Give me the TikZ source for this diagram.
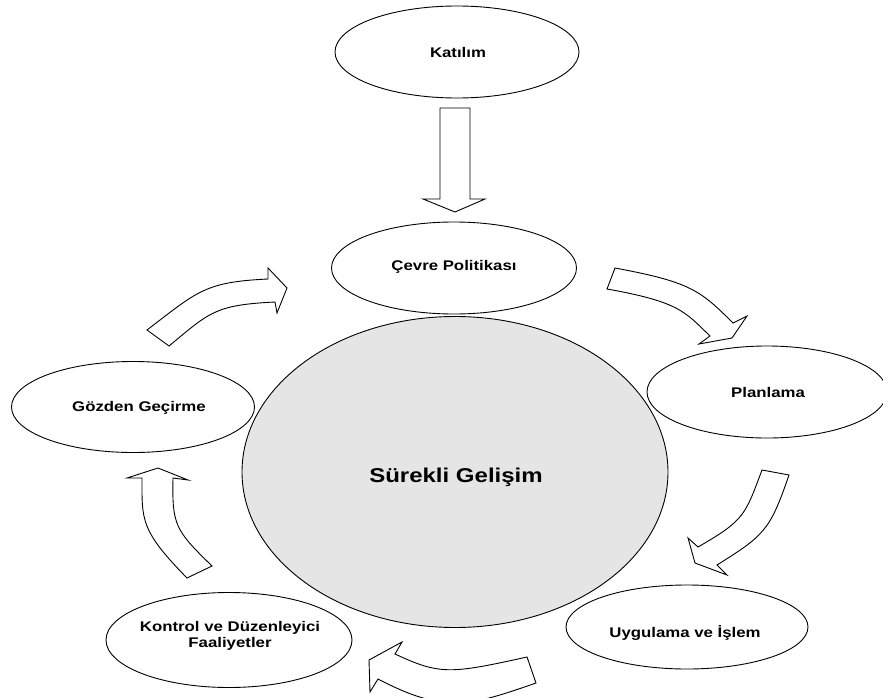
\documentclass[tikz,border=0pt]{standalone}
\usepackage{fontspec}
\setmainfont{Liberation Sans}[FakeStretch=1.2]
\usetikzlibrary{shapes.geometric}
\begin{document}
\begin{tikzpicture}[x=1pt,y=-1pt,
  oval/.style={draw=black,line width=0.9pt,fill=white,ellipse,inner sep=0pt},
  bigoval/.style={draw=black,line width=0.9pt,fill=gray!20,ellipse,inner sep=0pt},
  lbl/.style={font=\fontsize{14}{16}\selectfont\bfseries,align=center,inner sep=0pt},
  biglbl/.style={font=\fontsize{20}{22}\selectfont\bfseries,inner sep=0pt},
  blockarrow/.style={draw=black,line width=0.9pt,fill=white,line join=miter}]
\useasboundingbox (0,0) rectangle (883,698);
% central circle
\node[bigoval,minimum width=426pt,minimum height=311pt] (center) at (455,472) {};
% ellipses
\node[oval,minimum width=244pt,minimum height=92pt] (katilim) at (457,52) {};
\node[oval,minimum width=245pt,minimum height=92pt] (cevre) at (454,268) {};
\node[oval,minimum width=240pt,minimum height=92pt] (plan) at (767,392) {};
\node[oval,minimum width=243pt,minimum height=91pt] (gozden) at (133,407) {};
\node[oval,minimum width=242pt,minimum height=84pt] (uygulama) at (687,627) {};
\node[oval,minimum width=246pt,minimum height=95pt] (kontrol) at (229,640) {};
% labels
\node[lbl] (tkatilim) at (458,52) {Katılım};
\node[lbl] (tcevre) at (454,267) {Çevre Politikası};
\node[lbl] (tplan) at (768,392) {Planlama};
\node[lbl] (tgozden) at (139,408) {Gözden Geçirme};
\node[lbl] (tuyg) at (685,633) {Uygulama ve İşlem};
\node[lbl] (tkontrol) at (230,636) {Kontrol ve Düzenleyici\\Faaliyetler};
\node[biglbl] (tcenter) at (456,477) {Sürekli Gelişim};
% straight down arrow
\draw[blockarrow] (440,108) -- (470,108) -- (470,199) -- (485,199) -- (455,212)
  -- (423,199) -- (440,199) -- cycle;
% top-left curved arrow
\draw[blockarrow] (147,330) .. controls (198,291) and (205,282) .. (268,279)
  -- (268,268) -- (287,288) -- (277,313) -- (275,302)
  .. controls (215,305) and (210,312) .. (169,346) -- cycle;
% top-right curved arrow
\draw[blockarrow] (615,268) .. controls (690,282) and (700,290) .. (733,323)
  -- (747,316) -- (732,338) -- (699,344) -- (710,336)
  .. controls (685,312) and (680,302) .. (607,289) -- cycle;
% right curved arrow
\draw[blockarrow] (762,470) .. controls (745,515) and (745,520) .. (698,547)
  -- (688,538) -- (695,563) -- (727,575) -- (717,565)
  .. controls (765,535) and (770,530) .. (789,475) -- cycle;
% bottom curved arrow
\draw[blockarrow] (527,657) .. controls (450,674) and (440,675) .. (395,654)
  -- (402,642) -- (369,660) -- (370,692) -- (378,679)
  .. controls (445,714) and (470,706) .. (536,683) -- cycle;
% left curved arrow
\draw[blockarrow] (187,578) .. controls (140,530) and (142,520) .. (142,478)
  -- (127,478) -- (158,468) -- (188,480) -- (173,478)
  .. controls (172,525) and (175,530) .. (212,566) -- cycle;
\end{tikzpicture}
\end{document}
